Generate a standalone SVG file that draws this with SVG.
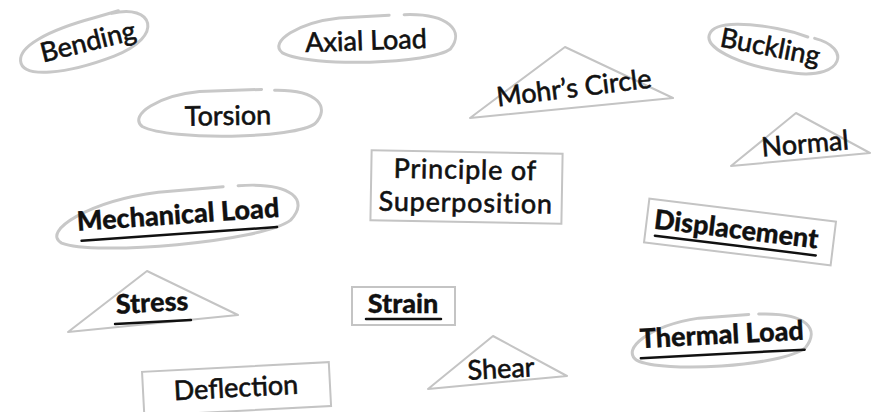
<svg xmlns="http://www.w3.org/2000/svg" width="879" height="412" viewBox="0 0 879 412">
<style>
.sk{fill:none;stroke:#c8c8c8;stroke-width:3;stroke-linecap:round}
.tri{fill:#fff;stroke:#c4c4c4;stroke-width:2;stroke-linejoin:round}
.box{fill:#fff;stroke:#c4c4c4;stroke-width:2}
.t{font-family:Lato,"Open Sans","Liberation Sans",sans-serif;font-size:27px;fill:#111;stroke:#111;stroke-width:0.6;text-anchor:middle}
.b{font-weight:900;stroke-width:0.3}
.ul{stroke:#111;stroke-width:2.5;stroke-linecap:round}
</style>
<rect width="879" height="412" fill="#fff"/>
<g id="connectors"/>
<g id="bending" transform="rotate(-14 88 42)">
<path class="sk" d="M118 20 C160 20 165 55 110 62 C60 68 15 62 18 44 C20 30 50 21 100 20 L125 19"/>
<text class="t" x="88" y="51" font-size="25">Bending</text>
</g>
<g id="axial-load" transform="rotate(-2 366 40)">
<path class="sk" d="M405 16 C450 16 465 35 450 52 C430 66 310 66 282 50 C268 38 300 20 340 17 L390 16"/>
<text class="t" x="366" y="50">Axial Load</text>
</g>
<g id="torsion" transform="rotate(-1 228 115)">
<path class="sk" d="M275 91 C320 91 330 110 315 125 C295 140 170 140 142 125 C128 113 160 94 200 91 L262 90"/>
<text class="t" x="228" y="125">Torsion</text>
</g>
<g id="mohrs-circle">
<polygon class="tri" points="565,47 673,98 470,118"/>
<text class="t" x="574" y="97" transform="rotate(-7 574 88)">Mohr’s Circle</text>
</g>
<g id="buckling" transform="rotate(11 770 48)">
<path class="sk" d="M812 30 C850 32 848 64 800 68 C750 72 705 62 708 46 C710 32 745 26 790 28 L805 30"/>
<text class="t" x="770" y="56" font-size="25">Buckling</text>
</g>
<g id="normal">
<polygon class="tri" points="796,113 870,153 731,166"/>
<text class="t" x="805" y="153" font-size="26" transform="rotate(-5 805 144)">Normal</text>
</g>
<g id="principle-of-superposition" transform="rotate(1 466 188)">
<rect class="box" x="371" y="152" width="191" height="70"/>
<text class="t" x="465" y="179" font-size="24" letter-spacing="0.8">Principle of</text>
<text class="t" x="466" y="212" font-size="24" letter-spacing="0.8">Superposition</text>
</g>
<g id="mechanical-load" transform="rotate(-4 177 215)">
<path class="sk" d="M240 190 C295 190 310 210 290 228 C260 248 90 250 60 235 C40 222 90 195 160 191 L225 190"/>
<text class="t b" x="178" y="224" font-size="26">Mechanical Load</text>
<line class="ul" x1="80" y1="234" x2="276" y2="234"/>
</g>
<g id="displacement" transform="rotate(7 740 232)">
<rect class="box" x="646" y="210" width="188" height="44"/>
<text class="t b" x="736" y="239" font-size="26">Displacement</text>
<line class="ul" x1="656" y1="246" x2="818" y2="246"/>
</g>
<g id="stress">
<polygon class="tri" points="147,271 238,315 68,332"/>
<g transform="rotate(-3 152 303)">
<text class="t b" x="152" y="312" font-size="28">Stress</text>
<line class="ul" x1="114" y1="322" x2="190" y2="322"/>
</g>
</g>
<g id="strain">
<rect class="box" x="352" y="287" width="103" height="38"/>
<text class="t b" x="403" y="313" font-size="28">Strain</text>
<line class="ul" x1="366" y1="319" x2="441" y2="319"/>
</g>
<g id="shear">
<polygon class="tri" points="493,336 567,376 428,389"/>
<text class="t" x="501" y="378" font-size="26" transform="rotate(-3 501 369)">Shear</text>
</g>
<g id="deflection" transform="rotate(-3 236 388)">
<rect class="box" x="143" y="367" width="187" height="44"/>
<text class="t" x="236" y="397">Deflection</text>
</g>
<g id="thermal-load" transform="rotate(-3 721 340)">
<path class="sk" d="M760 316 C810 317 820 335 805 352 C780 370 660 370 636 356 C620 344 650 322 700 317 L750 316"/>
<text class="t b" x="722" y="344" font-size="26">Thermal Load</text>
<line class="ul" x1="640" y1="354" x2="804" y2="354"/>
</g>
</svg>
